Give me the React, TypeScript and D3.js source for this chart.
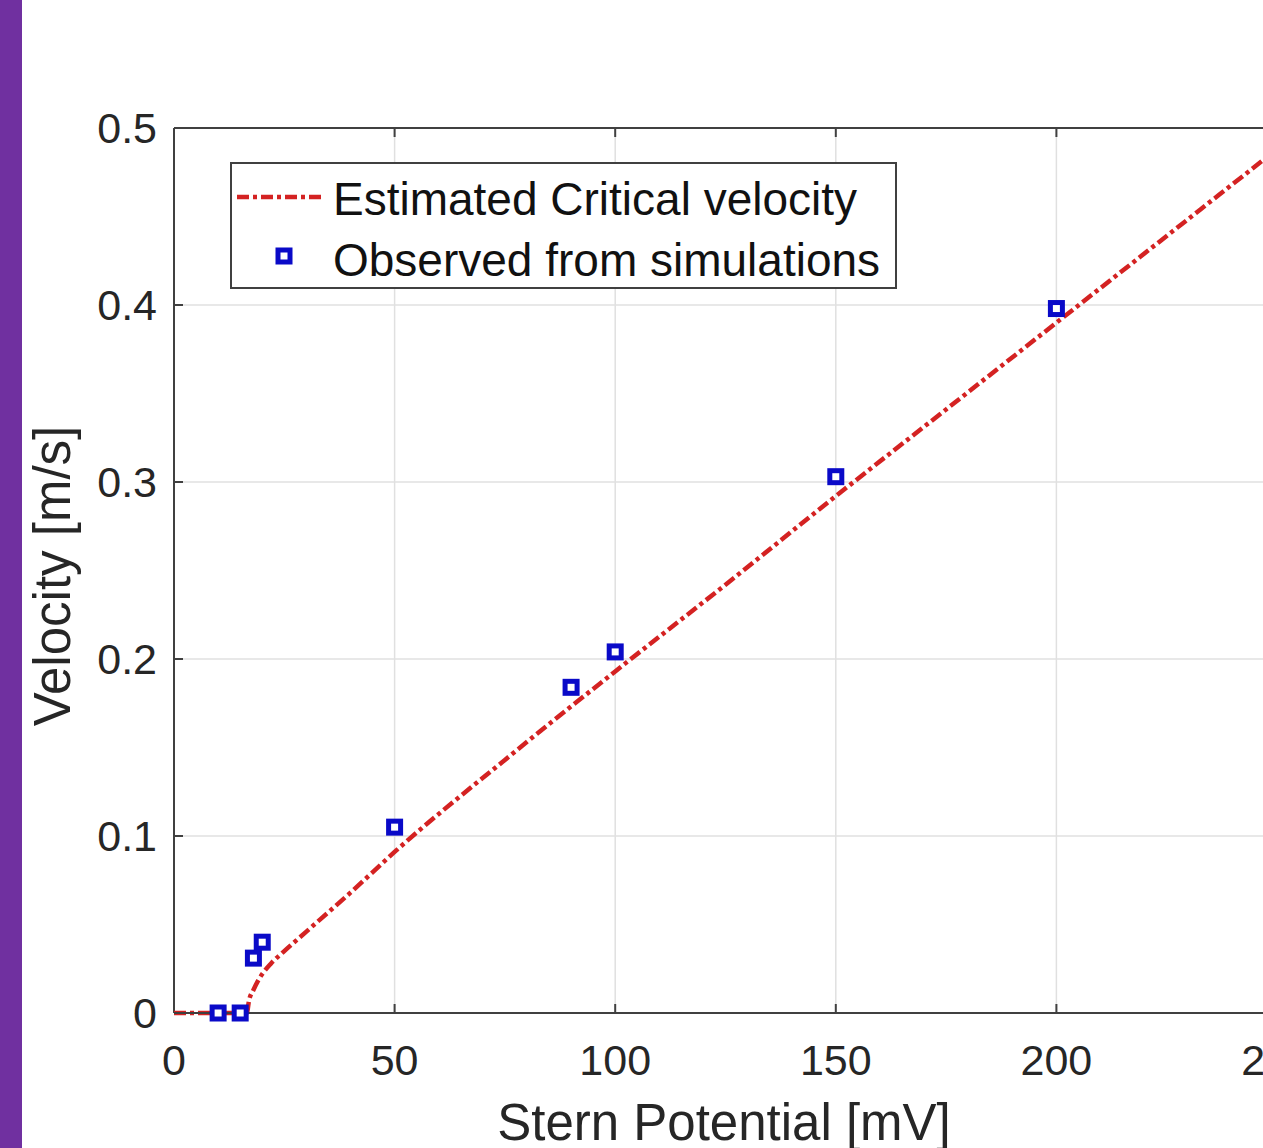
import React from 'react';
import { scaleLinear, line, curveMonotoneX } from 'd3';

const width = 1263;
const height = 1148;
const margin = { top: 128, left: 174, bottom: 135 };
const innerWidth = 1277 - margin.left;
const innerHeight = height - margin.top - margin.bottom;

// observed points (simulations)
const obsX = [10, 15, 18, 20, 50, 90, 100, 150, 200];
const obsY = [0, 0, 0.031, 0.04, 0.105, 0.184, 0.204, 0.303, 0.398];

// estimated critical velocity curve
const estX = [0, 10, 16.5, 17, 18, 19, 20, 22, 25, 30, 40, 50, 75, 100, 125, 150, 175, 200, 225, 250];
const estY = [0, 0, 0, 0.007, 0.013, 0.018, 0.022, 0.028, 0.035, 0.046, 0.068, 0.091, 0.143, 0.193, 0.242, 0.292, 0.341, 0.39, 0.439, 0.488];

const xTicks = [0, 50, 100, 150, 200, 250];
const yTicks = [0, 0.1, 0.2, 0.3, 0.4, 0.5];
const legendLabels = ['Estimated Critical velocity', 'Observed from simulations'];

const font = '"Liberation Sans", Arial, sans-serif';
const axisColor = '#404040';
const red = '#d42222';
const blue = '#0a0ac8';
const dash = '12 4 4 4';

function App() {
  const x = scaleLinear().domain([0, 250]).range([0, innerWidth]);
  const y = scaleLinear().domain([0, 0.5]).range([innerHeight, 0]);

  const est = estX.map((v, i) => [v, estY[i]] as [number, number]);
  const path = line<[number, number]>()
    .x(d => x(d[0]))
    .y(d => y(d[1]))
    .curve(curveMonotoneX)(est);

  const mk = 12;

  return (
    <div style={{ position: 'absolute', left: 0, top: 0 }}>
      <svg width={width} height={height} style={{ display: 'block', background: '#fff' }}>
        <rect x={0} y={0} width={22} height={height} fill="#7030a0" />
        <g transform={`translate(${margin.left},${margin.top})`}>
          {/* grid */}
          {xTicks.map(t => (
            <line key={'gx' + t} x1={x(t)} x2={x(t)} y1={0} y2={innerHeight} stroke="#e0e0e0" strokeWidth={1.5} />
          ))}
          {yTicks.map(t => (
            <line key={'gy' + t} x1={0} x2={innerWidth} y1={y(t)} y2={y(t)} stroke="#e0e0e0" strokeWidth={1.5} />
          ))}

          {/* axes box */}
          <line x1={0} x2={innerWidth} y1={0} y2={0} stroke={axisColor} strokeWidth={2} />
          <line x1={0} x2={0} y1={0} y2={innerHeight} stroke={axisColor} strokeWidth={2} />
          {xTicks.map(t => (
            <g key={'tx' + t} transform={`translate(${x(t)},0)`}>
              <line y1={innerHeight} y2={innerHeight - 9} stroke={axisColor} strokeWidth={2} />
              <line y1={0} y2={9} stroke={axisColor} strokeWidth={2} />
              <text y={innerHeight + 62} textAnchor="middle" fontSize={43} fontFamily={font} fill="#262626">
                {t}
              </text>
            </g>
          ))}
          {yTicks.map(t => (
            <g key={'ty' + t} transform={`translate(0,${y(t)})`}>
              <line x1={0} x2={9} stroke={axisColor} strokeWidth={2} />
              <text x={-17} dy="0.36em" textAnchor="end" fontSize={43} fontFamily={font} fill="#262626">
                {t}
              </text>
            </g>
          ))}

          {/* estimated curve */}
          <path d={path || ''} fill="none" stroke={red} strokeWidth={4.5} strokeDasharray={dash} />
          <line x1={0} x2={innerWidth} y1={innerHeight} y2={innerHeight} stroke={axisColor} strokeWidth={2} />
          {/* observed */}
          {obsX.map((v, i) => (
            <rect key={'o' + i} x={x(v) - mk / 2} y={y(obsY[i]) - mk / 2} width={mk} height={mk}
              fill="#fff" stroke={blue} strokeWidth={5} />
          ))}
        </g>

        {/* axis labels */}
        <text x={724} y={1140} textAnchor="middle" fontSize={51} fontFamily={font} fill="#262626">
          Stern Potential [mV]
        </text>
        <text transform="translate(70,576) rotate(-90)" textAnchor="middle" fontSize={51} fontFamily={font} fill="#262626">
          Velocity [m/s]
        </text>

        {/* legend */}
        <g>
          <rect x={231} y={163} width={665} height={125} fill="#fff" stroke={axisColor} strokeWidth={2} />
          <line x1={237} x2={325} y1={197} y2={197} stroke={red} strokeWidth={4.5} strokeDasharray={dash} />
          <rect x={284 - mk / 2} y={256 - mk / 2} width={mk} height={mk} fill="#fff" stroke={blue} strokeWidth={5} />
          <text x={333} y={215} fontSize={46} fontFamily={font} fill="#111">{legendLabels[0]}</text>
          <text x={333} y={276} fontSize={46} fontFamily={font} fill="#111">{legendLabels[1]}</text>
        </g>
      </svg>
    </div>
  );
}

export default App;
